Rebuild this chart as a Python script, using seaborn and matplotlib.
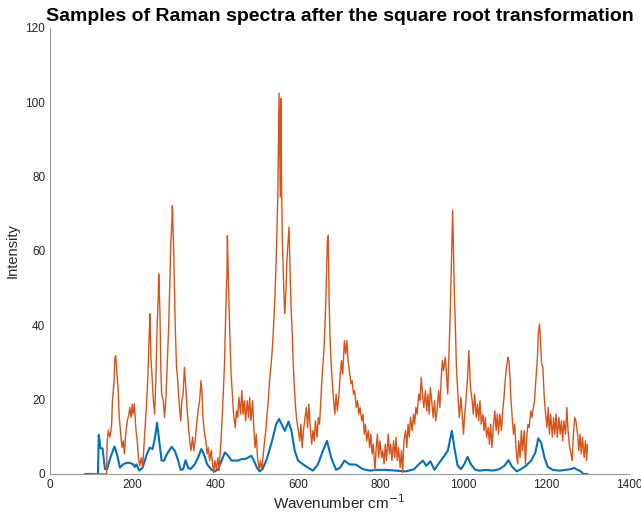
import pandas as pd
import seaborn as sns
import matplotlib.pyplot as plt

# blue sample (smooth spectrum)
blue_x = [85, 116, 118, 122, 127, 133, 138, 146, 156, 163, 169, 177, 185, 193, 201, 205, 209, 216,
          224, 233, 241, 248, 254, 259, 264, 270, 276, 283, 294, 302, 310, 316, 322, 328, 334, 340,
          350, 358, 366, 372, 380, 391, 399, 407, 415, 423, 431, 439, 447, 455, 463, 471, 479, 487,
          493, 501, 507, 514, 523, 535, 547, 554, 562, 568, 577, 584, 592, 600, 612, 624, 636, 648,
          660, 670, 680, 692, 702, 712, 724, 740, 757, 773, 789, 813, 837, 861, 881, 892, 902, 910,
          920, 930, 942, 954, 962, 972, 978, 986, 994, 1002, 1010, 1018, 1029, 1039, 1055, 1071,
          1087, 1099, 1109, 1118, 1129, 1139, 1151, 1164, 1174, 1181, 1188, 1196, 1204, 1216, 1232,
          1248, 1260, 1268, 1276, 1284, 1290, 1300]
blue_y = [0, 0, 10.5, 6.9, 6.9, 1.3, 1.3, 4.4, 7.4, 4.9, 1.7, 2.6, 3.0, 3.0, 2.6, 1.9, 2.6, 0.9,
          1.7, 4.9, 7.1, 6.7, 9.8, 13.8, 9.0, 3.6, 3.6, 5.4, 7.3, 6.2, 3.6, 1.1, 1.3, 3.7, 1.7, 1.3,
          2.6, 4.4, 6.7, 5.4, 2.6, 1.1, 0.7, 1.3, 3.6, 5.8, 4.9, 3.6, 3.6, 3.6, 4.0, 4.0, 4.4, 4.9,
          3.6, 1.6, 0.7, 1.3, 3.6, 8.0, 13.4, 14.8, 13.0, 11.6, 14.1, 11.6, 6.2, 3.6, 2.6, 1.7, 0.9, 2.6,
          6.2, 8.9, 4.4, 1.1, 1.7, 3.6, 2.6, 2.5, 1.3, 0.9, 1.1, 1.1, 0.9, 0.7, 1.3, 2.6, 3.6, 2.2,
          3.4, 1.1, 3.1, 4.9, 6.2, 11.6, 7.1, 2.2, 1.3, 2.6, 4.6, 2.6, 1.1, 0.9, 1.1, 0.9,
          1.3, 2.2, 3.7, 1.9, 0.7, 1.3, 2.2, 3.6, 5.8, 9.6, 8.4, 4.4, 1.9, 1.1, 0.9,
          1.1, 1.3, 1.6, 1.1, 0.7, 0, 0]

# orange sample (noisy spectrum)
orange_x = [98, 137, 138, 141, 145, 149, 151, 155, 157, 159, 162, 165, 167, 171, 174, 177, 180, 183,
            187, 191, 193, 196, 199, 201, 204, 208, 211, 214, 217, 221, 224, 227, 230, 233, 237, 240,
            242, 244, 246, 250, 253, 256, 259, 262, 263, 266, 268, 270, 274, 277, 280, 283, 287, 290,
            292, 295, 296, 299, 301, 303, 306, 309, 312, 316, 319, 322, 325, 329, 332, 335, 338, 341,
            345, 348, 351, 354, 358, 362, 365, 368, 370, 374, 377, 380, 383, 386, 390, 393, 396, 399,
            402, 406, 409, 412, 415, 419, 422, 425, 428, 429, 432, 435, 438, 441, 444, 448, 451, 454,
            457, 461, 464, 467, 470, 473, 477, 480, 483, 486, 490, 493, 496, 499, 502, 506, 509, 512,
            515, 519, 522, 525, 528, 531, 535, 538, 541, 544, 547, 551, 554, 557, 559, 560, 562, 564,
            566, 568, 571, 573, 576, 578, 581, 583, 586, 588, 591, 594, 597, 601, 604, 607, 610, 613,
            617, 620, 623, 626, 629, 633, 636, 639, 642, 646, 649, 652, 655, 658, 662, 665, 668, 671,
            673, 675, 677, 680, 683, 686, 689, 692, 695, 699, 702, 705, 708, 712, 715, 718, 721, 725,
            728, 731, 734, 737, 741, 744, 747, 750, 754, 757, 760, 763, 766, 770, 773, 776, 779, 782,
            786, 789, 792, 795, 798, 802, 805, 808, 811, 814, 818, 821, 824, 827, 831, 834, 837, 840,
            843, 847, 850, 853, 856, 860, 863, 866, 869, 872, 876, 879, 882, 885, 888, 892, 895, 898,
            901, 904, 908, 911, 914, 917, 920, 924, 927, 930, 933, 936, 940, 943, 946, 949, 952, 956,
            959, 962, 965, 968, 970, 972, 974, 976, 978, 981, 983, 987, 990, 994, 997, 1000, 1003,
            1006, 1010, 1013, 1015, 1017, 1021, 1024, 1027, 1031, 1034, 1037, 1040, 1043, 1047, 1050,
            1053, 1056, 1060, 1063, 1066, 1069, 1072, 1076, 1079, 1082, 1085, 1088, 1092, 1095, 1098,
            1101, 1104, 1108, 1110, 1113, 1115, 1118, 1121, 1124, 1127, 1131, 1134, 1137, 1140, 1143,
            1147, 1150, 1153, 1156, 1159, 1163, 1166, 1169, 1172, 1175, 1179, 1181, 1184, 1186, 1189,
            1192, 1195, 1198, 1202, 1205, 1208, 1211, 1215, 1218, 1221, 1224, 1227, 1231, 1234, 1237,
            1240, 1243, 1247, 1250, 1253, 1256, 1260, 1263, 1266, 1269, 1272, 1276, 1279, 1282, 1285,
            1288, 1292, 1295, 1298, 1300]
orange_y = [0, 0, 8.1, 11.7, 9.9, 13.0, 19.7, 25.1, 31.4, 31.8, 26.9, 22.4, 16.1, 10.7, 7.1, 8.9, 5.4, 10.7,
            14.3, 16.1, 17.9, 15.2, 18.8, 16.1, 18.8, 11.7, 8.9, 4.4, 2.2, 4.4, 1.7, 7.1, 12.5, 17.9, 26.9, 37.7,
            43.1, 31.4, 27.8, 19.7, 16.1, 25.1, 39.4, 48.4, 53.8, 43.1, 28.7, 21.5, 19.7, 15.2, 19.7, 27.8, 39.4, 52.0,
            61.9, 68.1, 72.2, 61.0, 50.2, 39.4, 28.7, 25.1, 19.7, 14.3, 19.7, 21.5, 28.7, 22.4, 17.0, 12.5, 8.9, 6.3,
            9.9, 6.3, 8.9, 12.5, 17.0, 19.7, 25.1, 21.5, 15.2, 10.7, 8.9, 5.4, 7.1, 3.6, 6.3, 2.7, 0.4, 3.6,
            1.3, 4.4, 0.9, 6.3, 11.7, 21.5, 29.6, 43.1, 53.8, 64.1, 50.2, 37.7, 26.9, 21.5, 16.1, 12.5, 17.0, 15.2,
            20.6, 16.1, 22.4, 16.1, 19.7, 14.3, 19.7, 15.2, 20.6, 14.3, 19.7, 12.5, 7.1, 10.7, 4.4, 1.3, 3.6, 0.9,
            4.4, 8.9, 11.7, 16.1, 19.7, 25.1, 29.6, 34.1, 40.3, 47.5, 57.4, 74.4, 102.5, 74.5, 101.0, 79.0, 62.9, 55.7,
            47.6, 43.1, 50.2, 57.4, 62.9, 66.4, 53.8, 44.9, 37.7, 30.5, 23.3, 17.9, 14.3, 11.7, 8.9, 13.4, 7.1, 11.7,
            15.2, 17.9, 12.5, 18.8, 13.4, 8.0, 11.7, 8.9, 14.3, 9.9, 15.2, 13.4, 19.7, 26.0, 32.3, 39.4, 50.2, 62.9,
            64.2, 47.6, 37.7, 29.6, 24.2, 19.7, 16.1, 21.5, 17.0, 21.5, 26.9, 30.5, 26.9, 35.9, 32.3, 35.9, 30.5, 26.9,
            24.2, 25.1, 21.5, 22.4, 17.9, 19.7, 16.1, 17.9, 14.3, 16.1, 10.7, 13.4, 8.9, 11.7, 7.1, 10.7, 5.4, 8.0,
            0.9, 7.1, 10.7, 4.4, 8.9, 4.4, 6.3, 2.7, 8.0, 3.6, 10.7, 5.4, 8.0, 3.6, 8.9, 4.4, 9.9, 3.6,
            7.1, 1.7, 6.3, 0.4, 8.9, 11.7, 7.1, 13.4, 9.9, 15.2, 11.7, 16.1, 13.4, 17.9, 16.1, 21.5, 19.7, 26.0,
            21.5, 17.9, 22.4, 17.0, 21.5, 16.1, 23.3, 18.8, 15.2, 19.7, 14.3, 17.0, 22.4, 17.9, 25.1, 30.5, 27.8, 31.4,
            26.9, 21.5, 32.3, 43.1, 53.0, 61.9, 70.9, 59.2, 48.4, 37.7, 28.7, 20.6, 15.2, 20.6, 16.1, 10.7, 16.1,
            19.7, 26.0, 33.2, 28.7, 23.3, 19.7, 16.1, 21.5, 15.2, 18.8, 14.3, 19.7, 13.4, 16.1, 11.7,
            15.2, 9.9, 12.5, 8.0, 13.4, 7.1, 12.5, 17.0, 11.7, 16.1, 10.7, 16.1, 11.7, 17.0, 20.6,
            25.1, 28.7, 31.4, 30.5, 25.1, 19.7, 15.2, 10.7, 13.4, 7.1, 2.7, 8.9, 4.4, 11.7, 6.3,
            11.7, 2.7, 9.9, 13.4, 12.5, 17.0, 15.2, 17.9, 19.7, 25.1, 31.4, 37.7, 40.3, 36.8, 29.6,
            28.7, 21.5, 17.0, 12.5, 17.9, 10.7, 16.1, 9.9, 15.2, 10.7, 16.1, 9.9, 15.2, 10.7, 14.3,
            8.9, 14.3, 10.7, 17.9, 11.7, 8.0, 5.4, 3.6, 10.7, 15.2, 14.3, 10.7, 6.3, 10.7, 5.4,
            9.9, 4.4, 8.9, 3.6, 8.0]

x_ticks = [0, 200, 400, 600, 800, 1000, 1200, 1400]
y_ticks = [0, 20, 40, 60, 80, 100, 120]

sns.set_style("white")
plt.rcParams["font.family"] = ["Liberation Sans", "DejaVu Sans"]

fig = plt.figure(figsize=(6.41, 5.18), dpi=100)
ax = fig.add_axes([0.078, 0.085, 0.903, 0.861])

sns.lineplot(x=blue_x, y=blue_y, color="#0072BD", linewidth=1.5, ax=ax)
sns.lineplot(x=orange_x, y=orange_y, color="#D95319", linewidth=1.0, ax=ax)

ax.set_xlim(0, 1400)
ax.set_ylim(0, 120)
ax.set_xticks(x_ticks)
ax.set_yticks(y_ticks)
ax.tick_params(direction="in", length=4, width=0.6, colors="#9a9a9a",
               labelcolor="#262626", labelsize=8.5)
sns.despine(ax=ax)
for side in ["left", "bottom"]:
    ax.spines[side].set_color("#9a9a9a")
    ax.spines[side].set_linewidth(0.8)

ax.set_xlabel("Wavenumber cm$^{-1}$", fontsize=11, color="#262626", labelpad=2)
ax.set_ylabel("Intensity", fontsize=10.5, color="#262626", labelpad=4)
ax.set_title("Samples of Raman spectra after the square root transformation",
             fontsize=14, fontweight="bold", color="black", pad=5)

fig.savefig("out.png", dpi=100)
